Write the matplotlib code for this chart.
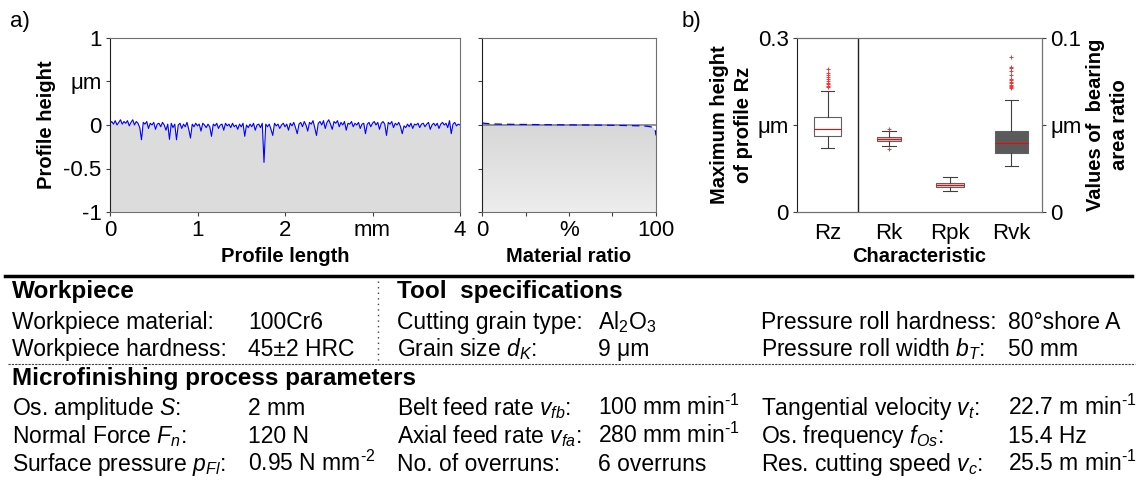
import numpy as np
import matplotlib
matplotlib.use('Agg')
import matplotlib.pyplot as plt
from matplotlib import font_manager
from matplotlib.colors import LinearSegmentedColormap

plt.rcParams['font.family'] = ['Liberation Sans', 'DejaVu Sans']
plt.rcParams['mathtext.fontset'] = 'custom'
plt.rcParams['mathtext.rm'] = 'Liberation Sans'
plt.rcParams['mathtext.it'] = 'Liberation Sans:italic'
plt.rcParams['mathtext.bf'] = 'Liberation Sans:bold'

# profile heights (um), sampled every 0.02 mm over 0..4 mm
profile_um = [
    0.02, 0.04, 0.01, 0.05, 0.00, 0.03, 0.06, 0.01, 0.04, 0.02,
    0.05, -0.01, 0.03, 0.06, 0.00, 0.04, 0.02, -0.03, -0.17, 0.03,
    0.01, 0.04, -0.04, 0.02, 0.00, 0.03, -0.05, 0.01, 0.02, -0.02,
    0.03, 0.00, -0.06, 0.01, -0.165, 0.02, -0.03, 0.01, -0.17, 0.00,
    0.02, -0.04, 0.01, -0.02, 0.03, -0.05, -0.15, 0.01, -0.02, 0.02,
    -0.01, 0.01, -0.07, 0.02, 0.00, -0.03, 0.01, -0.02, -0.13, 0.01,
    -0.01, 0.02, -0.04, 0.00, 0.01, -0.06, 0.02, -0.01, 0.01, -0.03,
    0.02, -0.02, 0.00, -0.05, 0.01, -0.02, 0.02, -0.13, 0.00, -0.03,
    0.01, -0.02, 0.02, -0.06, 0.00, 0.01, -0.03, 0.02, -0.43, 0.01,
    -0.02, 0.01, -0.05, -0.12, 0.02, -0.01, 0.01, -0.04, 0.00, 0.02,
    -0.02, 0.01, -0.06, 0.02, -0.01, 0.03, -0.03, -0.10, 0.01, 0.03,
    -0.02, 0.04, 0.00, -0.07, 0.03, 0.01, 0.05, -0.03, -0.12, 0.02,
    0.04, 0.00, 0.05, -0.04, 0.03, 0.06, 0.01, -0.05, 0.04, 0.02,
    0.05, -0.02, 0.03, 0.00, 0.04, -0.06, 0.02, 0.01, 0.04, -0.02,
    0.02, 0.00, 0.03, -0.04, 0.01, 0.02, -0.10, 0.01, 0.03, -0.02,
    0.02, 0.04, 0.00, 0.03, -0.05, 0.02, 0.04, 0.01, -0.12, 0.03,
    0.01, 0.04, -0.03, 0.02, 0.00, 0.03, -0.02, -0.10, -0.01, -0.03,
    0.01, -0.02, 0.02, -0.04, 0.01, 0.00, 0.02, -0.03, 0.01, 0.02,
    -0.02, 0.01, 0.03, -0.05, 0.00, 0.02, -0.01, 0.02, -0.04, 0.01,
    0.03, 0.00, 0.02, -0.03, 0.05, -0.10, 0.01, 0.03, -0.01, 0.01,
    0.00,
]
profile_mm = np.linspace(0, 4, len(profile_um))

# bearing area (Abbott) curve
mr_pct = [0, 2, 5, 10, 20, 30, 40, 50, 60, 70, 80, 90, 95, 98, 99.5, 100]
mr_um = [0.025, 0.018, 0.013, 0.010, 0.007, 0.005, 0.003, 0.001, 0.000,
         -0.002, -0.005, -0.009, -0.014, -0.025, -0.05, -0.12]

# box statistics (um); Rz on left axis, Rk/Rpk/Rvk on right axis
box_labels = ['Rz', 'Rk', 'Rpk', 'Rvk']
whis_lo = [0.111, 0.0381, 0.0121, 0.0264]
q1 = [0.1316, 0.0406, 0.0142, 0.0341]
med = [0.143, 0.0418, 0.0155, 0.0395]
q3 = [0.163, 0.0431, 0.0169, 0.0467]
whis_hi = [0.2086, 0.0464, 0.0201, 0.0645]
fliers = [
    [0.215, 0.218, 0.221, 0.223, 0.226, 0.229, 0.232, 0.236, 0.240, 0.246],
    [0.0475, 0.0364],
    [],
    [0.0711, 0.0718, 0.0725, 0.0732, 0.0740, 0.0748, 0.0756, 0.0765,
     0.0790, 0.0810, 0.0825, 0.0836, 0.0889],
]

# table text
workpiece_rows = [('Workpiece material:', '100Cr6'),
                  ('Workpiece hardness:', '45\u00b12 HRC')]
tool_rows = [('Cutting grain type:', 'Al$_2$O$_3$'),
             ('Grain size $d_K$:', '9 \u03bcm')]
roll_rows = [('Pressure roll hardness:', '80\u00b0shore A'),
             ('Pressure roll width $b_T$:', '50 mm')]
proc_rows = [
    [('Os. amplitude $S$:', '2 mm'),
     ('Belt feed rate $v_{fb}$:', '100 mm min$^{\\text{-}1}$'),
     ('Tangential velocity $v_t$:', '22.7 m min$^{\\text{-}1}$')],
    [('Normal Force $F_n$:', '120 N'),
     ('Axial feed rate $v_{fa}$:', '280 mm min$^{\\text{-}1}$'),
     ('Os. frequency $f_{Os}$:', '15.4 Hz')],
    [('Surface pressure $p_{Fl}$:', '0.95 N mm$^{\\text{-}2}$'),
     ('No. of overruns:', '6 overruns'),
     ('Res. cutting speed $v_c$:', '25.5 m min$^{\\text{-}1}$')],
]

W, H = 1137, 491
fig = plt.figure(figsize=(W / 100, H / 100), dpi=100)

def px_ax(l, t, r, b):
    return fig.add_axes([l / W, 1 - b / H, (r - l) / W, (b - t) / H])

def ftxt(x, y, s, **kw):
    fig.text(x / W, 1 - y / H, s, **kw)

try:
    font_manager.findfont('Liberation Sans Narrow', fallback_to_default=False)
    lab_kw = dict(family=['Liberation Sans Narrow', 'Liberation Sans'],
                  fontsize=17.5, fontweight='bold')
except ValueError:
    lab_kw = dict(fontsize=14.5, fontweight='bold')

fs = 16
tfs = 16.5
spine_col = '#707070'

def style(ax):
    for k in ['top', 'right', 'bottom']:
        ax.spines[k].set_color(spine_col)
    ax.spines['left'].set_color('#202020')
    ax.tick_params(labelsize=fs, direction='out', length=3, width=0.8,
                   color='#404040', pad=3)

# --- a) profile
ax1 = px_ax(110, 38, 460, 212)
ax1.fill_between(profile_mm, profile_um, -1, color='#dcdcdc', lw=0)
ax1.plot(profile_mm, profile_um, color='#0000ff', lw=0.8)
ax1.set_xlim(0, 4)
ax1.set_ylim(-1, 1)
ax1.set_xticks([0, 1, 2, 3, 4])
ax1.set_xticklabels(['0', '1', '2', 'mm', '4'])
ax1.set_yticks([-1, -0.5, 0, 0.5, 1])
ax1.set_yticklabels(['-1', '-0.5', '0', '\u03bcm', '1'])
style(ax1)
ax1.set_xlabel('Profile length', labelpad=4, **lab_kw)
ax1.set_ylabel('Profile height', labelpad=5, **lab_kw)

# --- material ratio
ax2 = px_ax(482, 38, 656, 212)
poly = ax2.fill_between(mr_pct, mr_um, -1, color='none', lw=0)
grad = np.linspace(0, 1, 256).reshape(-1, 1)
cmap = LinearSegmentedColormap.from_list('g', ['#d6d6d6', '#ededed'])
im = ax2.imshow(grad, extent=[0, 100, -1, 0.05], origin='upper',
                aspect='auto', cmap=cmap, zorder=1)
im.set_clip_path(poly.get_paths()[0], transform=ax2.transData)
ax2.axhline(0, color='#808080', lw=1.2, zorder=2)
ax2.plot(mr_pct, mr_um, color='#0000ff', lw=0.9, ls=(0, (6, 4)), zorder=3)
ax2.set_xlim(0, 100)
ax2.set_ylim(-1, 1)
ax2.set_xticks([0, 25, 50, 75, 100])
ax2.set_xticklabels(['0', '', '%', '', '100'])
ax2.set_yticks([-1, -0.5, 0, 0.5, 1])
ax2.set_yticklabels([])
style(ax2)
ax2.set_xlabel('Material ratio', labelpad=4, **lab_kw)

# --- b) box plots
ax3 = px_ax(797, 38, 1042, 212)
ax4 = ax3.twinx()
stats = []
for i in range(4):
    stats.append(dict(label=box_labels[i], whislo=whis_lo[i], q1=q1[i],
                      med=med[i], q3=q3[i], whishi=whis_hi[i],
                      fliers=fliers[i]))
faces = ['white', '#cccccc', '#d4d4d4', '#5a5a5a']
widths = [0.44, 0.38, 0.45, 0.53]
for i in range(4):
    target = ax3 if i == 0 else ax4
    target.bxp([stats[i]], positions=[i + 1], widths=[widths[i]],
               patch_artist=True, capwidths=[0.22],
               boxprops=dict(facecolor=faces[i], edgecolor='#606060', lw=0.8),
               whiskerprops=dict(color='#404040', lw=0.8),
               capprops=dict(color='#404040', lw=0.8),
               medianprops=dict(color='#ff0000', lw=0.8),
               flierprops=dict(marker='+', markersize=3,
                               markeredgecolor='#ff3030', markeredgewidth=0.7))
ax3.axvline(1.5, color='#202020', lw=1)
ax3.set_xlim(0.5, 4.5)
ax3.set_ylim(0, 0.3)
ax4.set_ylim(0, 0.1)
ax3.set_xticks([1, 2, 3, 4])
ax3.set_xticklabels(box_labels)
ax3.set_yticks([0, 0.15, 0.3])
ax3.set_yticklabels(['0', '\u03bcm', '0.3'])
ax4.set_yticks([0, 0.05, 0.1])
ax4.set_yticklabels(['0', '\u03bcm', '0.1'])
style(ax3)
style(ax4)
for k in ['top', 'right', 'bottom', 'left']:
    ax4.spines[k].set_color(spine_col)
ax4.spines['left'].set_visible(False)
ax3.tick_params(axis='x', length=0, pad=8)
ax3.set_xlabel('Characteristic', labelpad=2, **lab_kw)
ax3.set_ylabel('Maximum height\nof profile Rz', labelpad=3, linespacing=1.35,
               **lab_kw)
ax4.set_ylabel('Values of  bearing\narea ratio', labelpad=3, linespacing=1.35,
               **lab_kw)

ftxt(10, 22, 'a)', fontsize=fs, va='center')
ftxt(682, 22, 'b)', fontsize=fs, va='center')

# --- parameter table
fig.add_artist(plt.Line2D([5 / W, 1132 / W], [1 - 276 / H, 1 - 276 / H],
                          color='black', lw=2.5))
fig.add_artist(plt.Line2D([8 / W, 1135 / W], [1 - 364 / H, 1 - 364 / H],
                          color='#404040', lw=0.8, ls=(0, (2, 1))))
fig.add_artist(plt.Line2D([378 / W, 378 / W], [1 - 281 / H, 1 - 362 / H],
                          color='#404040', lw=1.0, ls=(0, (1, 3))))

col_lab = [12, 397, 761]
col_val = [248, 598, 1008]
txt_kw = dict(fontsize=tfs, va='baseline', ha='left')
head_kw = dict(fontsize=17.5, fontweight='bold', va='baseline', ha='left')

ftxt(col_lab[0], 298, 'Workpiece', **head_kw)
ftxt(col_lab[1], 298, 'Tool  specifications', **head_kw)
for j, yb in enumerate([329, 356]):
    for c, rows in enumerate([workpiece_rows, tool_rows, roll_rows]):
        ftxt(col_lab[c], yb, rows[j][0], **txt_kw)
        ftxt(col_val[c], yb, rows[j][1], **txt_kw)

ftxt(col_lab[0], 385, 'Microfinishing process parameters', **head_kw)
for j, yb in enumerate([415, 443, 471]):
    for c in range(3):
        ftxt(col_lab[c], yb, proc_rows[j][c][0], **txt_kw)
        ftxt(col_val[c], yb, proc_rows[j][c][1], **txt_kw)

fig.savefig('out.png', dpi=100)
